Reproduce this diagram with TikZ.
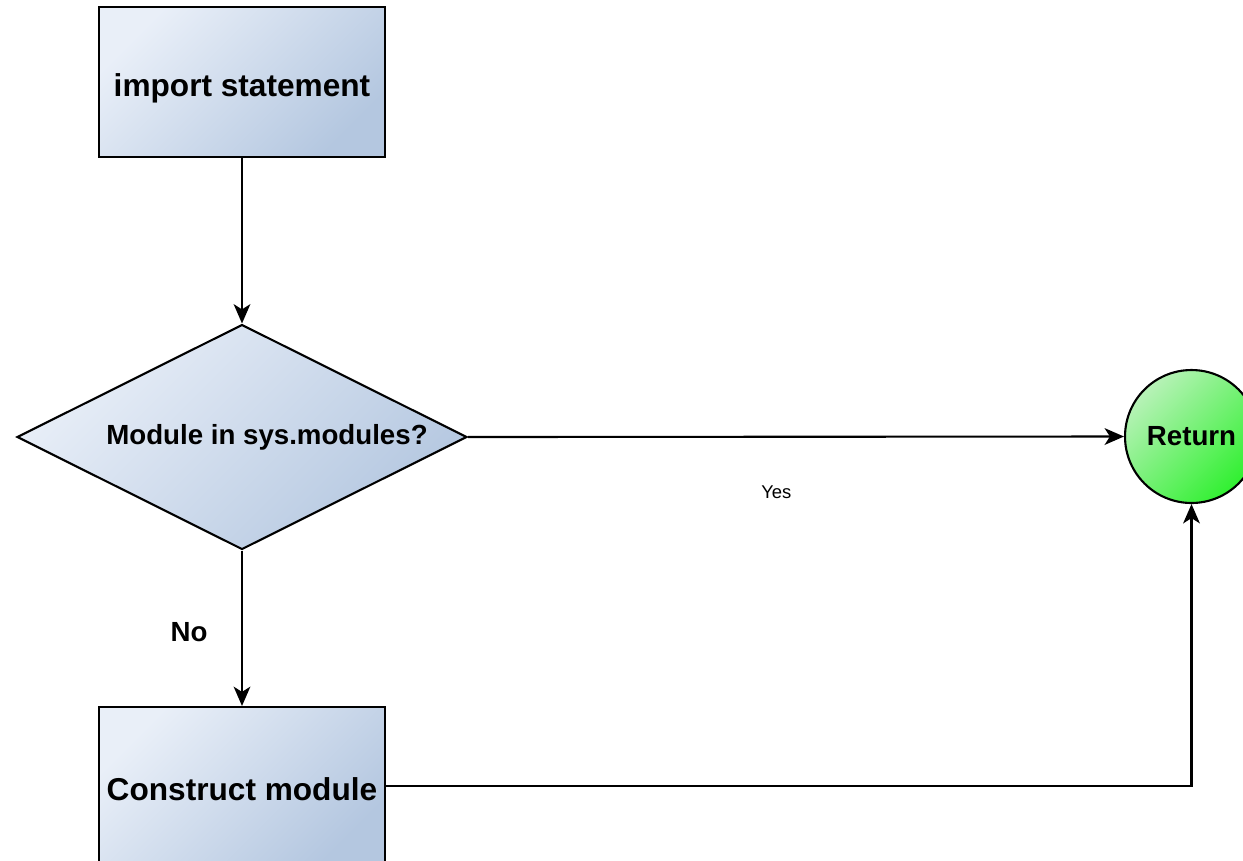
\documentclass[tikz,border=0pt]{standalone}
\usepackage{fontspec}
\setmainfont{Liberation Sans}
\usetikzlibrary{positioning,arrows.meta,shapes.geometric}
\definecolor{boxlight}{RGB}{233,239,248}
\definecolor{boxdark}{RGB}{180,199,224}
\definecolor{retlight}{RGB}{184,242,184}
\definecolor{retdark}{RGB}{48,240,48}

\begin{document}
\begin{tikzpicture}[
    x=0.02cm, y=-0.02cm,
    box/.style={draw, line width=1.2pt, minimum width=5.72cm, inner sep=0pt,
                top color=boxlight, bottom color=boxdark, shading angle=45,
                text height=0.62cm, text depth=0.06cm,
                font=\fontsize{18}{20}\selectfont\bfseries},
    decide/.style={draw, diamond, aspect=2, line width=1.2pt, inner sep=0pt,
                   minimum width=9cm, minimum height=4.5cm,
                   top color=boxlight, bottom color=boxdark, shading angle=45,
                   font=\fontsize{15.75}{18}\selectfont\bfseries},
    endpt/.style={draw, circle, line width=1.2pt, minimum size=2.66cm, inner sep=0pt,
                  top color=retlight, bottom color=retdark, shading angle=45,
                  font=\fontsize{15.75}{18}\selectfont\bfseries},
    arr/.style={-{Stealth[length=11pt, width=9.5pt, inset=3pt]}, line width=1.2pt},
]
  \useasboundingbox (0,0) rectangle (1243,860);
  \clip (0,0) rectangle (1243,860);

  \node[box, minimum height=3cm] (imp) at (242,82) {import statement};
  \node[decide] (inmod) at (242,437) {\hspace*{1cm}Module in sys.modules?};
  \node[endpt] (ret) at (1191.5,436.5) {Return};
  \node[box, minimum height=3.16cm] (build) at (242,786) {Construct module};

  \draw[arr] (imp) -- (inmod);
  \draw[arr] (inmod.east) -- node[pos=0.47, yshift=-1.1cm,
    font=\fontsize{10.5}{12}\selectfont] {Yes} (ret.west);
  \draw[arr] (inmod.south) -- node[left=0.55cm, yshift=-0.08cm,
    font=\fontsize{15.75}{18}\selectfont\bfseries] {No} (build.north);
  \draw[arr] (build.east) -| (ret.south);
\end{tikzpicture}
\end{document}
